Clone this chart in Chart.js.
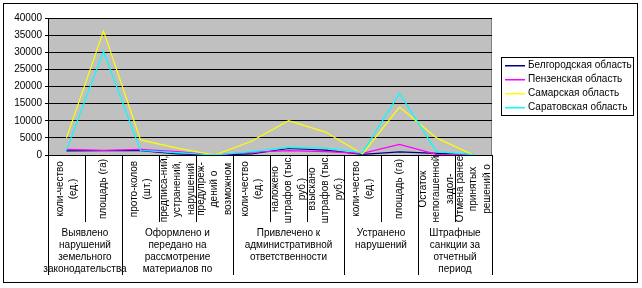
<!DOCTYPE html>
<html>
<head>
<meta charset="utf-8">
<script src="https://cdn.jsdelivr.net/npm/chart.js@4.4.1/dist/chart.umd.min.js"></script>
<style>
  html, body { margin: 0; padding: 0; background: #fff; }
  #wrap { width: 642px; height: 288px; position: relative; }
</style>
</head>
<body>
<div id="wrap"><canvas id="chart" width="642" height="288"></canvas></div>
<script>
// --- DATOS ---
const categories = [
  ["коли-чество", "(ед.)"],
  ["площадь (га)"],
  ["прото-колов", "(шт.)"],
  ["предписа-ний,", "устранений,", "нарушений"],
  ["предупреж-", "дений о", "возможном"],
  ["коли-чество", "(ед.)"],
  ["наложено", "штрафов (тыс.", "руб.)"],
  ["взыскано", "штрафов (тыс.", "руб.)"],
  ["коли-чество", "(ед.)"],
  ["площадь (га)"],
  ["Остаток", "непогашенной", "задол-"],
  ["Отмена ранее", "принятых", "решений о"]
];
const groups = [
  ["Выявлено", "нарушений", "земельного", "законодательства"],
  ["Оформлено и", "передано на", "рассмотрение", "материалов по"],
  ["Привлечено к", "административной", "ответственности"],
  ["Устранено", "нарушений"],
  ["Штрафные", "санкции за", "отчетный", "период"]
];
const groupStarts = [0, 2, 5, 8, 10, 12];

const belgorod = [1200, 1300, 1300, 300, 0, 300, 1900, 1400, 200, 900, 500, 100];
const penza    = [1650, 1350, 1650, 1000, 0, 800, 1300, 1000, 500, 3100, 200, 0];
const samara   = [5000, 36200, 4400, 2000, 0, 4000, 10000, 6700, 300, 14000, 5000, 0];
const saratov  = [1500, 30200, 1300, 700, 0, 1000, 2200, 2000, 700, 18000, 1000, 100];
const yTicks = [0, 5000, 10000, 15000, 20000, 25000, 30000, 35000, 40000];

const FONT = "10px Arial, 'Liberation Sans', sans-serif";

// --- PLUGINS ---
const frame = {
  id: "frame",
  beforeDraw(chart) {
    const { ctx, chartArea: a } = chart;
    ctx.save();
    ctx.fillStyle = "#c0c0c0";
    ctx.fillRect(a.left, a.top, a.right - a.left, a.bottom - a.top);
    ctx.strokeStyle = "#808080";
    ctx.lineWidth = 1;
    ctx.strokeRect(a.left + 0.5, a.top + 0.5, a.right - a.left - 1, a.bottom - a.top);
    ctx.restore();
  },
  afterDraw(chart) {
    const { ctx, chartArea: a, scales } = chart;
    const x = scales.x;
    const w = (a.right - a.left) / categories.length;
    ctx.save();
    // marco exterior
    ctx.strokeStyle = "#000";
    ctx.lineWidth = 1;
    ctx.strokeRect(3.5, 3.5, 634, 279);

    // separadores
    ctx.beginPath();
    for (let i = 0; i <= categories.length; i++) {
      const px = Math.round(a.left + i * w) + 0.5;
      const long = groupStarts.includes(i);
      ctx.moveTo(px, a.bottom);
      ctx.lineTo(px, long ? 275 : 222);
    }
    ctx.stroke();

    // etiquetas de categoría (rotadas)
    ctx.fillStyle = "#000";
    ctx.font = FONT;
    ctx.textAlign = "center";
    ctx.textBaseline = "middle";
    categories.forEach((lines, i) => {
      const cx = x.getPixelForValue(i);
      lines.forEach((t, j) => {
        const lx = cx + (j - (lines.length - 1) / 2) * 13.5;
        ctx.save();
        ctx.translate(lx, 189);
        ctx.rotate(-Math.PI / 2);
        ctx.fillText(t, 0, 0);
        ctx.restore();
      });
    });

    // etiquetas de grupo
    groups.forEach((lines, g) => {
      const cx = a.left + (groupStarts[g] + groupStarts[g + 1]) / 2 * w;
      lines.forEach((t, j) => ctx.fillText(t, cx, 233 + j * 12));
    });

    // leyenda
    const lx = 501, ly = 57;
    ctx.strokeStyle = "#000";
    ctx.lineWidth = 1;
    ctx.strokeRect(lx + 0.5, ly + 0.5, 132, 58);
    ctx.textAlign = "left";
    chart.data.datasets.forEach((ds, k) => {
      const yy = 65 + k * 14;
      ctx.fillStyle = ds.borderColor;
      ctx.fillRect(lx + 4, yy, 20, 1.5);
      ctx.fillStyle = "#000";
      ctx.fillText(ds.label, lx + 27, yy);
    });
    ctx.restore();
  }
};

// --- GRÁFICO ---
const makeSet = (label, data, color, order) => ({
  label, data, borderColor: color, backgroundColor: color,
  borderWidth: 1.2, pointRadius: 0, tension: 0, fill: false, order
});

new Chart(document.getElementById("chart").getContext("2d"), {
  type: "line",
  data: {
    labels: categories.map(c => c.join(" ")),
    datasets: [
      makeSet("Белгородская область", belgorod, "#000080", 4),
      makeSet("Пензенская область", penza, "#ff00ff", 3),
      makeSet("Самарская область", samara, "#ffff00", 2),
      makeSet("Саратовская область", saratov, "#00ffff", 1)
    ]
  },
  options: {
    responsive: false,
    animation: false,
    layout: { padding: { top: 18, right: 150, left: 0, bottom: 0 } },
    plugins: { legend: { display: false }, tooltip: { enabled: false } },
    scales: {
      x: {
        offset: true,
        grid: { display: false },
        border: { display: true, color: "#000" },
        ticks: { display: false },
        afterFit: (s) => { s.height = 133; }
      },
      y: {
        min: 0, max: 40000,
        afterBuildTicks: (s) => { s.ticks = yTicks.map(v => ({ value: v })); },
        afterFit: (s) => { s.width = 48; },
        grid: { color: "#000", lineWidth: 1, tickLength: 3 },
        border: { display: true, color: "#000" },
        ticks: {
          color: "#000",
          font: { family: "Arial, 'Liberation Sans', sans-serif", size: 10 },
          padding: 3,
          callback: (v) => String(v)
        }
      }
    }
  },
  plugins: [frame]
});
</script>
</body>
</html>
